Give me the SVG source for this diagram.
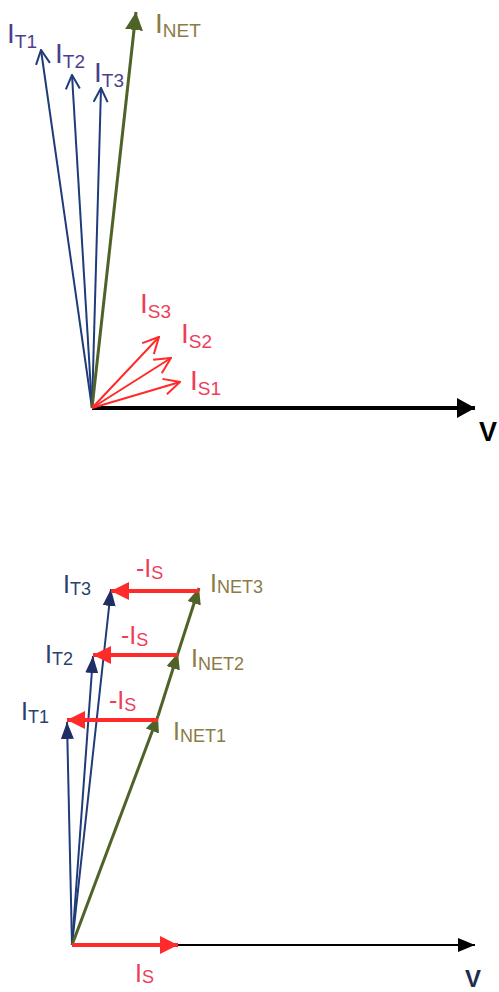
<svg xmlns="http://www.w3.org/2000/svg" width="499" height="992" viewBox="0 0 499 992">
<style>
.lbl{font-family:"Liberation Sans","DejaVu Sans",sans-serif;}
.t1{font-size:28px;}
.t2{font-size:25px;}
.sub1{font-size:19px;}
.sub2{font-size:18px;}
.purple{fill:#4B3F8C;}
.navy{fill:#2B3F6E;}
.olive{fill:#8B7B45;}
.pink{fill:#EE3D5A;}
.bl{stroke:#1F3B7A;fill:none;}
.gr{stroke:#4F6228;fill:none;}
.rd{stroke:#FF2A2A;fill:none;}
.ax{stroke:#000;fill:none;}
</style>
<defs>
<marker id="openBlue" markerUnits="userSpaceOnUse" viewBox="0 0 16 16" refX="15" refY="8" markerWidth="16" markerHeight="16" orient="auto">
<path d="M1,1 L15,8 L1,15" fill="none" stroke="#1F3B7A" stroke-width="2"/>
</marker>
<marker id="openRed" markerUnits="userSpaceOnUse" viewBox="0 0 18 18" refX="17" refY="9" markerWidth="18" markerHeight="18" orient="auto">
<path d="M1,1 L17,9 L1,17" fill="none" stroke="#FF2A2A" stroke-width="2"/>
</marker>
<marker id="fillGreenBig" markerUnits="userSpaceOnUse" viewBox="0 0 18 18" refX="18" refY="9" markerWidth="18" markerHeight="18" orient="auto">
<path d="M0,0 L18,9 L0,18 Z" fill="#4F6228"/>
</marker>
<marker id="fillGreen" markerUnits="userSpaceOnUse" viewBox="0 0 16 14" refX="16" refY="7" markerWidth="16" markerHeight="14" orient="auto">
<path d="M0,0 L16,7 L0,14 Z" fill="#4F6228"/>
</marker>
<marker id="fillBlue" markerUnits="userSpaceOnUse" viewBox="0 0 17 13" refX="17" refY="6.5" markerWidth="17" markerHeight="13" orient="auto">
<path d="M0,0 L17,6.5 L0,13 Z" fill="#1F2F66"/>
</marker>
<marker id="fillRed" markerUnits="userSpaceOnUse" viewBox="0 0 18 18" refX="18" refY="9" markerWidth="18" markerHeight="18" orient="auto">
<path d="M0,0 L18,9 L0,18 Z" fill="#FF2A2A"/>
</marker>
<marker id="fillBlack" markerUnits="userSpaceOnUse" viewBox="0 0 18 20" refX="18" refY="10" markerWidth="18" markerHeight="20" orient="auto">
<path d="M0,0 L18,10 L0,20 Z" fill="#000"/>
</marker>
<marker id="fillBlackSm" markerUnits="userSpaceOnUse" viewBox="0 0 17 14" refX="17" refY="7" markerWidth="17" markerHeight="14" orient="auto">
<path d="M0,0 L17,7 L0,14 Z" fill="#000"/>
</marker>
</defs>

<g id="connectors">
<!-- top diagram -->
<line class="ax" x1="92" y1="408" x2="475" y2="408" stroke-width="4" marker-end="url(#fillBlack)"/>
<line class="bl" x1="92" y1="408" x2="41" y2="50" stroke-width="2" marker-end="url(#openBlue)"/>
<line class="bl" x1="92" y1="408" x2="72" y2="75" stroke-width="2" marker-end="url(#openBlue)"/>
<line class="bl" x1="92" y1="408" x2="101" y2="88" stroke-width="2" marker-end="url(#openBlue)"/>
<line class="gr" x1="92" y1="408" x2="136" y2="12" stroke-width="3" marker-end="url(#fillGreenBig)"/>
<line class="rd" x1="92" y1="408" x2="180" y2="382" stroke-width="2" marker-end="url(#openRed)"/>
<line class="rd" x1="92" y1="408" x2="171" y2="358" stroke-width="2" marker-end="url(#openRed)"/>
<line class="rd" x1="92" y1="408" x2="159" y2="337" stroke-width="2" marker-end="url(#openRed)"/>

<!-- bottom diagram -->
<line class="ax" x1="72" y1="945" x2="475" y2="945" stroke-width="2" marker-end="url(#fillBlackSm)"/>
<line class="bl" x1="72" y1="945" x2="67" y2="722" stroke-width="2" marker-end="url(#fillBlue)"/>
<line class="bl" x1="72" y1="945" x2="93" y2="656" stroke-width="2" marker-end="url(#fillBlue)"/>
<line class="bl" x1="72" y1="945" x2="111" y2="589" stroke-width="2" marker-end="url(#fillBlue)"/>
<line class="gr" x1="72" y1="945" x2="158" y2="716" stroke-width="3" marker-end="url(#fillGreen)"/>
<line class="gr" x1="158" y1="716" x2="178" y2="653" stroke-width="3" marker-end="url(#fillGreen)"/>
<line class="gr" x1="178" y1="653" x2="199" y2="588" stroke-width="3" marker-end="url(#fillGreen)"/>
<line class="rd" x1="158" y1="720" x2="67" y2="720" stroke-width="4" marker-end="url(#fillRed)"/>
<line class="rd" x1="178" y1="655" x2="93" y2="655" stroke-width="4" marker-end="url(#fillRed)"/>
<line class="rd" x1="199" y1="591" x2="111" y2="591" stroke-width="4" marker-end="url(#fillRed)"/>
<line class="rd" x1="72" y1="945" x2="178" y2="945" stroke-width="4" marker-end="url(#fillRed)"/>
</g>

<!-- top labels -->
<g id="IT1_top"><text class="lbl t1 purple" x="7" y="43">I<tspan class="sub1" dy="5">T1</tspan></text></g>
<g id="IT2_top"><text class="lbl t1 purple" x="55" y="63">I<tspan class="sub1" dy="5">T2</tspan></text></g>
<g id="IT3_top"><text class="lbl t1 purple" x="94" y="82">I<tspan class="sub1" dy="5">T3</tspan></text></g>
<g id="INET_top"><text class="lbl t1 olive" x="155" y="33">I<tspan class="sub1" dy="4">NET</tspan></text></g>
<g id="IS3_top"><text class="lbl t1 pink" x="140" y="313">I<tspan class="sub1" dy="5">S3</tspan></text></g>
<g id="IS2_top"><text class="lbl t1 pink" x="181" y="343">I<tspan class="sub1" dy="5">S2</tspan></text></g>
<g id="IS1_top"><text class="lbl t1 pink" x="190" y="390">I<tspan class="sub1" dy="5">S1</tspan></text></g>
<g id="V_top"><text class="lbl" x="479" y="441" font-size="27" font-weight="bold" fill="#000">V</text></g>

<!-- bottom labels -->
<g id="IT3_bot"><text class="lbl t2 navy" x="63" y="593">I<tspan class="sub2" dy="2">T3</tspan></text></g>
<g id="IT2_bot"><text class="lbl t2 navy" x="45" y="663">I<tspan class="sub2" dy="2">T2</tspan></text></g>
<g id="IT1_bot"><text class="lbl t2 navy" x="21" y="720">I<tspan class="sub2" dy="3">T1</tspan></text></g>
<g id="mIS3"><text class="lbl t2 pink" x="136" y="577">-I<tspan class="sub2" dy="2">S</tspan></text></g>
<g id="mIS2"><text class="lbl t2 pink" x="121" y="644">-I<tspan class="sub2" dy="2">S</tspan></text></g>
<g id="mIS1"><text class="lbl t2 pink" x="109" y="709">-I<tspan class="sub2" dy="2">S</tspan></text></g>
<g id="INET3"><text class="lbl t2 olive" x="210" y="592">I<tspan class="sub2" dy="1">NET3</tspan></text></g>
<g id="INET2"><text class="lbl t2 olive" x="191" y="667">I<tspan class="sub2" dy="3">NET2</tspan></text></g>
<g id="INET1"><text class="lbl t2 olive" x="173" y="740">I<tspan class="sub2" dy="2">NET1</tspan></text></g>
<g id="IS_bot"><text class="lbl t2 pink" x="135" y="982">I<tspan class="sub2" dy="1">S</tspan></text></g>
<g id="V_bot"><text class="lbl" x="465" y="987" font-size="24" font-weight="bold" fill="#1F2D4F">V</text></g>
</svg>
